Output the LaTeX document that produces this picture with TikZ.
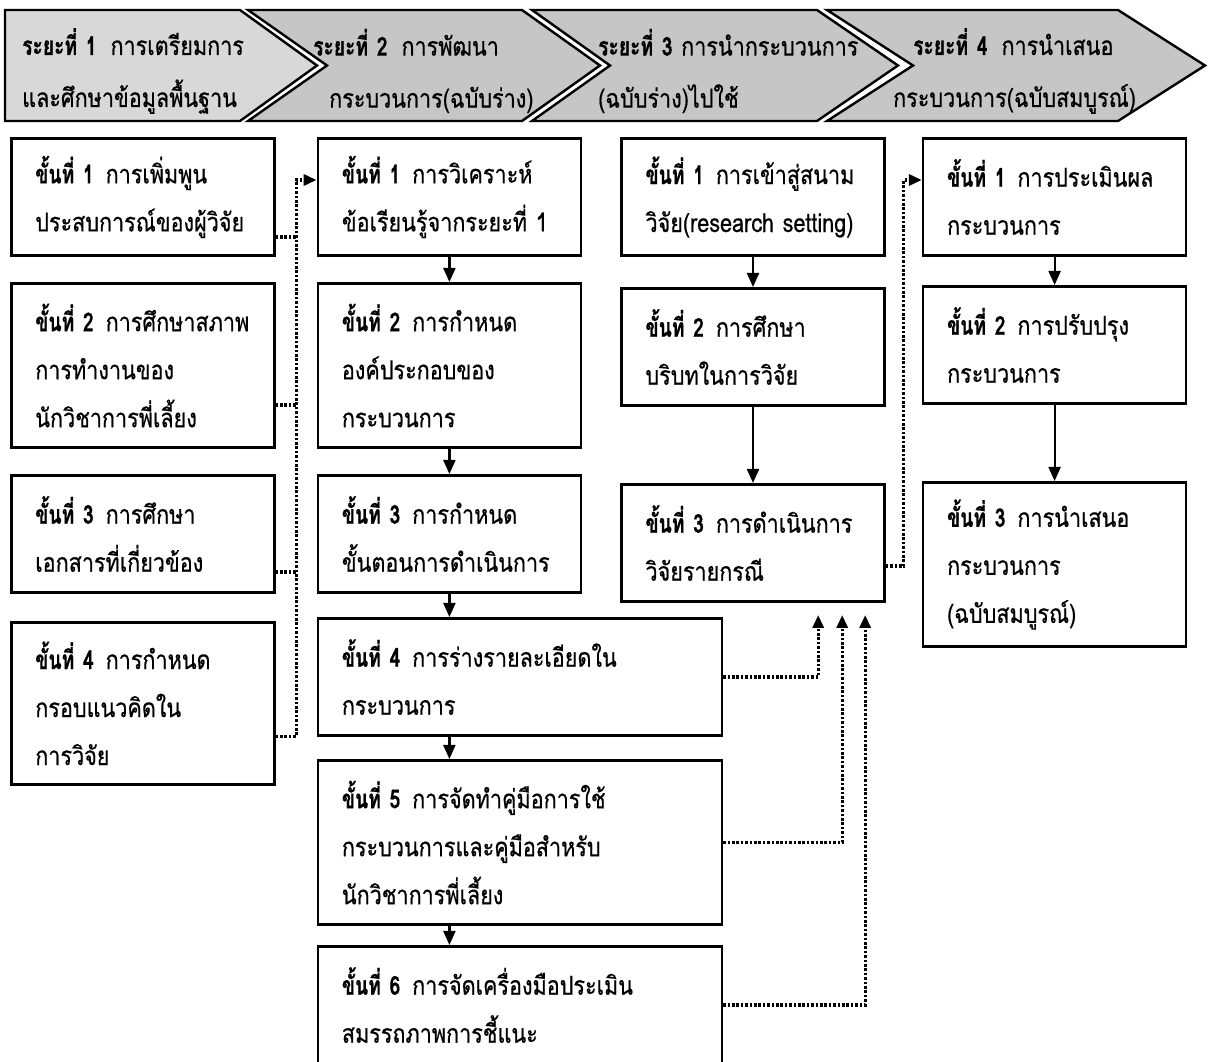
\documentclass[tikz,border=0pt]{standalone}
\usepackage{fontspec}
\usepackage{xcolor}
\usepackage{tikz}
\usetikzlibrary{positioning,arrows.meta,calc}
\newfontfamily\thai[Script=Thai,FakeStretch=0.83,FakeBold=0.6,BoldFeatures={FakeStretch=0.74}]{Loma}
\definecolor{bandA}{HTML}{D8D8D8}
\definecolor{bandB}{HTML}{C6C6C6}
\newcommand{\khan}[1]{\textbf{ขั้นที่~#1}\nobreak\hspace{12pt}}
\newcommand{\raya}[1]{\textbf{ระยะที่~#1}\nobreak\hspace{14pt}}

\begin{document}
\begin{tikzpicture}[x=1pt, y=1pt,
    font=\thai\fontsize{26}{48}\selectfont,
    box/.style={draw, line width=2.6pt, anchor=north west, align=left,
                text width=215pt, inner xsep=24pt, minimum height=117.4pt},
    wide/.style={box, text width=356pt},
    tall/.style={minimum height=164.4pt},
    head/.style={anchor=west, align=left, inner sep=0pt, text width=290pt,
                 font=\thai\fontsize{26}{52}\selectfont},
    band/.style={draw, line width=2.4pt, line join=miter},
    flow/.style={line width=2.2pt, -{Triangle[length=14pt,width=12pt]}},
    dots/.style={line width=3.2pt, dash pattern=on 2.6pt off 1.8pt},
    tip/.style={-{Triangle[length=13pt,width=11pt]}}]
  \useasboundingbox (0,0) rectangle (1208,1061);

  % header band
  \path[band, fill=bandA] (5,1051) -- (240,1051) -- (317,995.5) -- (240,940) -- (5,940) -- cycle;
  \path[band, fill=bandB] (248,1051) -- (522,1051) -- (600,995.5) -- (522,940) -- (248,940) -- (327,995.5) -- cycle;
  \path[band, fill=bandB] (532,1051) -- (817,1051) -- (898,995.5) -- (817,940) -- (532,940) -- (610,995.5) -- cycle;
  \path[band, fill=bandB] (827,1051) -- (1118,1051) -- (1205,995.5) -- (1118,940) -- (827,940) -- (913,995.5) -- cycle;

  \node[head] (h1) at (22,990) {\raya{1}การเตรียมการ\\และศึกษาข้อมูลพื้นฐาน};
  \node[head] (h2) at (313,990) {\raya{2}การพัฒนา\\\hspace*{16pt}กระบวนการ(ฉบับร่าง)};
  \node[head] (h3) at (598,990) {\textbf{ระยะที่~3}~การนำกระบวนการ\\(ฉบับร่าง)ไปใช้};
  \node[head] (h4) at (893,990) {\hspace*{20pt}\raya{4}การนำเสนอ\\กระบวนการ(ฉบับสมบูรณ์)};

  % phase 1
  \node[box] (l1) at (10,924) {\khan{1}การเพิ่มพูน\\ประสบการณ์ของผู้วิจัย};
  \node[box, tall, below=25pt of l1] (l2) {\khan{2}การศึกษาสภาพ\\การทำงานของ\\นักวิชาการพี่เลี้ยง};
  \node[box, below=25pt of l2] (l3) {\khan{3}การศึกษา\\เอกสารที่เกี่ยวข้อง};
  \node[box, minimum height=162pt, below=27pt of l3] (l4) {\khan{4}การกำหนด\\กรอบแนวคิดใน\\การวิจัย};

  % phase 2
  \node[box, right=41pt of l1] (m1) {\khan{1}การวิเคราะห์\\ข้อเรียนรู้จากระยะที่~1};
  \node[box, tall, below=25pt of m1] (m2) {\khan{2}การกำหนด\\องค์ประกอบของ\\กระบวนการ};
  \node[box, below=25pt of m2] (m3) {\khan{3}การกำหนด\\ขั้นตอนการดำเนินการ};
  \node[wide, below=23pt of m3.south west, anchor=north west] (m4) {\khan{4}การร่างรายละเอียดใน\\กระบวนการ};
  \node[wide, tall, below=22pt of m4] (m5) {\khan{5}การจัดทำคู่มือการใช้\\กระบวนการและคู่มือสำหรับ\\นักวิชาการพี่เลี้ยง};
  \node[wide, below=19pt of m5] (m6) {\khan{6}การจัดเครื่องมือประเมิน\\สมรรถภาพการชี้แนะ};

  % phase 3
  \node[box, right=38pt of m1] (r1) {\khan{1}การเข้าสู่สนาม\\วิจัย(research~setting)};
  \node[box, below=30pt of r1] (r2) {\khan{2}การศึกษา\\บริบทในการวิจัย};
  \node[box, below=76pt of r2] (r3) {\khan{3}การดำเนินการ\\วิจัยรายกรณี};

  % phase 4
  \node[box, right=36pt of r1] (f1) {\khan{1}การประเมินผล\\กระบวนการ};
  \node[box, below=28pt of f1] (f2) {\khan{2}การปรับปรุง\\กระบวนการ};
  \node[box, tall, below=76pt of f2] (f3) {\khan{3}การนำเสนอ\\กระบวนการ\\(ฉบับสมบูรณ์)};

  \draw[flow] (m1) -- (m2);
  \draw[flow] (m2) -- (m3);
  \draw[flow] (m3) -- (m3 |- m4.north);
  \draw[flow] (m4.south -| m3) -- (m5.north -| m3);
  \draw[flow] (m5.south -| m3) -- (m6.north -| m3);
  \draw[flow] (r1) -- (r2);
  \draw[flow] (r2) -- (r3);
  \draw[flow] (f1) -- (f2);
  \draw[flow] (f2) -- (f3);

  \coordinate (bl) at ($(l1.east)!0.5!(m1.west)$);
  \coordinate (br) at ($(r1.east)!0.5!(f1.west)$);

  \draw[dots] ([yshift=20pt]l1.south east) -- ++(20pt,0);
  \draw[dots] ([yshift=44pt]l2.south east) -- ++(20pt,0);
  \draw[dots] ([yshift=22pt]l3.south east) -- ++(20pt,0);
  \draw[dots, tip] ([yshift=49pt]l4.south east) -| ([yshift=17pt]bl) -- ([yshift=17pt]m1.west);
  \draw[dots, tip] ([yshift=-23pt]r3.east) -| ([yshift=17pt]br) -- ([yshift=17pt]f1.west);

  \draw[dots, tip] (m4.east) -| ([xshift=198pt, yshift=-12pt]r3.south west);
  \draw[dots, tip] (m5.east) -| ([xshift=222pt, yshift=-12pt]r3.south west);
  \draw[dots, tip] (m6.east) -| ([xshift=245pt, yshift=-12pt]r3.south west);
\end{tikzpicture}
\end{document}
